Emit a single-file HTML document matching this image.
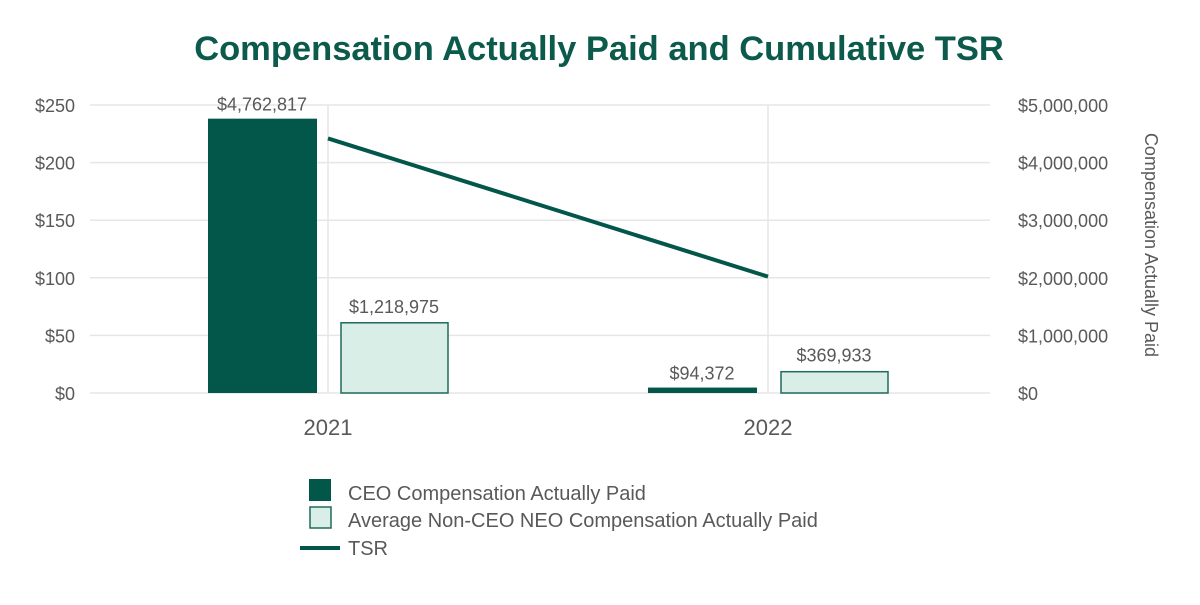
<!DOCTYPE html>
<html><head><meta charset="utf-8"><style>
body{margin:0;background:#fff;width:1200px;height:600px;overflow:hidden;font-family:"Liberation Sans",sans-serif}
</style></head><body>
<svg width="1200" height="600" id="svg" xmlns="http://www.w3.org/2000/svg">
<text x="599" y="60" text-anchor="middle" font-size="34.5" font-weight="bold" fill="#0b5a4b">Compensation Actually Paid and Cumulative TSR</text>
<g id="grid"></g><g id="bars"></g><g id="line"></g><g id="axes"></g>
<text transform="translate(1145,245) rotate(90)" text-anchor="middle" font-size="18" fill="#595959">Compensation Actually Paid</text>
<g>
<rect x="309" y="479" width="22" height="22" fill="#02564a"/>
<text x="348" y="500" font-size="20" fill="#595959">CEO Compensation Actually Paid</text>
<rect x="310" y="507" width="21" height="21" fill="#d9eee7" stroke="#1f6b5c" stroke-width="1.5"/>
<text x="348" y="527" font-size="20" fill="#595959">Average Non-CEO NEO Compensation Actually Paid</text>
<line x1="300" y1="548" x2="340" y2="548" stroke="#02564a" stroke-width="4"/>
<text x="348" y="555" font-size="20" fill="#595959">TSR</text>
</g>
</svg>
<script>
const categories=["2021","2022"];
const ceoValues=[4762817,94372];
const neoValues=[1218975,369933];
const tsrValues=[221,101];
const leftTicks=[0,50,100,150,200,250];
const rightTicks=[0,1000000,2000000,3000000,4000000,5000000];
const NS="http://www.w3.org/2000/svg";
const x0=90,x1=990,yB=393,yT=105;
const yL=v=>yB-(v/250)*(yB-yT);
const yR=v=>yB-(v/5000000)*(yB-yT);
const xC=i=>328+440*i;
const fmt=v=>"$"+v.toLocaleString("en-US");
function mk(t,a,p){const e=document.createElementNS(NS,t);for(const k in a)e.setAttribute(k,a[k]);document.getElementById(p).appendChild(e);return e;}
leftTicks.forEach((t,i)=>{
 const g=mk("line",{x1:x0,x2:x1,y1:yL(t),y2:yL(t),stroke:"#e6e6e6","stroke-width":1.5},"grid");
 
 
 const l=mk("text",{x:75,y:yL(t)+7,"text-anchor":"end","font-size":18,fill:"#595959"},"axes");l.textContent="$"+t;
 
 
});
rightTicks.forEach(t=>{
 const l=mk("text",{x:1018,y:yR(t)+7,"font-size":18,fill:"#595959"},"axes");l.textContent=fmt(t);
 
 
});
categories.forEach((c,i)=>{
 const cx=xC(i);
 const v=mk("line",{x1:cx,x2:cx,y1:yT,y2:yB,stroke:"#e6e6e6","stroke-width":1.5},"grid");
 
 
 const b1=mk("rect",{x:cx-120,y:yR(ceoValues[i]),width:109,height:yB-yR(ceoValues[i]),fill:"#02564a"},"bars");
 
 
 const b2=mk("rect",{x:cx+13,y:yR(neoValues[i]),width:107,height:yB-yR(neoValues[i]),fill:"#d9eee7",stroke:"#1f6b5c","stroke-width":1.5},"bars");
 
 
 const t1=mk("text",{x:cx-66,y:yR(ceoValues[i])-8,"text-anchor":"middle","font-size":18,fill:"#595959"},"bars");t1.textContent=fmt(ceoValues[i]);
 
 
 const t2=mk("text",{x:cx+66,y:yR(neoValues[i])-10,"text-anchor":"middle","font-size":18,fill:"#595959"},"bars");t2.textContent=fmt(neoValues[i]);
 
 
 const cl=mk("text",{x:cx,y:435,"text-anchor":"middle","font-size":22,fill:"#595959"},"axes");cl.textContent=c;
 
 
});
const pts=tsrValues.map((v,i)=>xC(i)+","+yL(v)).join(" ");
const pl=mk("polyline",{points:pts,fill:"none",stroke:"#02564a","stroke-width":4},"line");


</script>
</body></html>
